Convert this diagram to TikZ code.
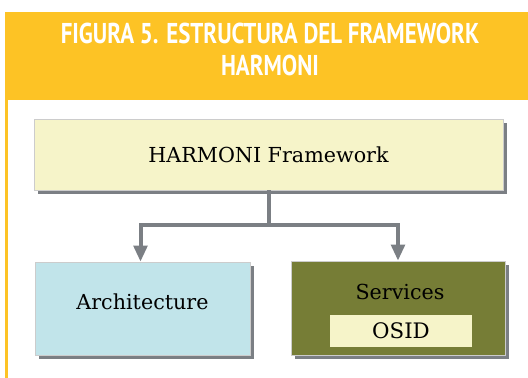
\documentclass[tikz,border=0pt]{standalone}
\usepackage{fontspec}
\usepackage{xcolor, tikz}
\usetikzlibrary{positioning, arrows.meta, shadows}

\newfontfamily\headfont[FakeStretch=0.8]{PT Sans}
\newfontfamily\boxfont{DejaVu Serif}

\definecolor{bandyellow}{HTML}{FDC325}
\definecolor{paleyellow}{HTML}{F6F4C9}
\definecolor{paleblue}{HTML}{C1E4EA}
\definecolor{olive}{HTML}{767D36}
\definecolor{linegray}{HTML}{7B7F84}

\tikzset{
  box/.style = {draw = black!20, line width = 0.4pt, inner sep = 0pt,
                drop shadow = {shadow xshift = 3pt, shadow yshift = -3pt,
                               opacity = 1, fill = linegray}},
  conn/.style = {draw = linegray, line width = 3pt},
  tip/.style = {-{Triangle[length = 12pt, width = 10pt]}}
}

\begin{document}
\begin{tikzpicture}[x = 0.75pt, y = -0.75pt]
    \useasboundingbox (0,0) rectangle (528,378);
    	\begin{scope}
          % heading band
          \fill[bandyellow] (5,12) rectangle (528,100);
          \fill[bandyellow] (5,100) rectangle (8,378);
    		\node[text = white, align = center, font = \headfont\bfseries\fontsize{21.5}{24}\selectfont]
    		  at (270,49) (title) {FIGURA 5. ESTRUCTURA DEL FRAMEWORK\\HARMONI};
    	\end{scope}

    	\begin{scope}[font = \boxfont]
    		\node[box, fill = paleyellow, minimum width = 351.75pt, minimum height = 53.25pt,
    		      font = \boxfont\fontsize{15.5}{18}\selectfont] at (268.5,154.5) (fw) {HARMONI Framework};
    		\node[box, fill = paleblue, minimum width = 161.25pt, minimum height = 69.75pt, text depth = 11pt,
    		      font = \boxfont\fontsize{15.5}{18}\selectfont] at (142.5,308.5) (arch) {Architecture};
    		\node[box, fill = olive, minimum width = 160.5pt, minimum height = 70.5pt] at (398,308) (serv) {};
    		\node[font = \boxfont\fontsize{15.5}{18}\selectfont] at (400,292) (servname) {Services};
    		\node[fill = paleyellow, inner sep = 0pt, minimum width = 106.5pt, minimum height = 24pt,
    		      font = \boxfont\fontsize{16}{19}\selectfont] at (401,331) (osid) {OSID};
    	\end{scope}

    	% connectors
    	\coordinate (split) at (fw.south |- 0,225);
    	\draw[conn] (fw.south) -- (split);
    	\draw[conn, tip] (split) -| ([xshift = -1.5pt]arch.north);
    	\draw[conn, tip] (split) -| (serv.north);

	\end{tikzpicture}
\end{document}
